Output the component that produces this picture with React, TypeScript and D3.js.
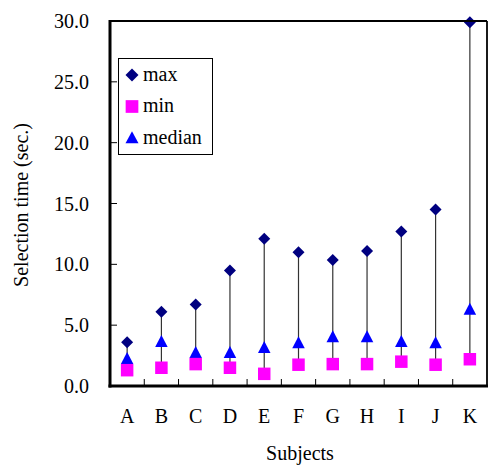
import React from 'react';
import * as d3 from 'd3';

// chart values
const subjects = ['A', 'B', 'C', 'D', 'E', 'F', 'G', 'H', 'I', 'J', 'K'];
const maxTimes = [3.6, 6.1, 6.7, 9.5, 12.1, 11.0, 10.35, 11.1, 12.7, 14.5, 29.9];
const minTimes = [1.3, 1.5, 1.8, 1.5, 1.0, 1.75, 1.8, 1.8, 2.0, 1.75, 2.2];
const medianTimes = [2.2, 3.6, 2.7, 2.7, 3.1, 3.5, 4.0, 4.0, 3.6, 3.5, 6.25];
const yTicks = [0, 5, 10, 15, 20, 25, 30];

const W = 489;
const H = 465;
const left = 110, right = 487, top = 21, bottom = 386;
const serif = "'Liberation Serif', 'DejaVu Serif', 'Times New Roman', serif";

// marker outlines
function diamondPath(r: number) {
    const p = d3.path();
    p.moveTo(0, -r); p.lineTo(r, 0); p.lineTo(0, r); p.lineTo(-r, 0); p.closePath();
    return p.toString();
}
function squarePath(s: number) {
    const p = d3.path();
    p.rect(-s / 2, -s / 2, s, s);
    return p.toString();
}
function trianglePath(w: number, h: number) {
    const p = d3.path();
    p.moveTo(0, -h * 0.6); p.lineTo(w / 2, h * 0.4); p.lineTo(-w / 2, h * 0.4); p.closePath();
    return p.toString();
}

const txt = { fontFamily: serif, fontSize: 20, fill: '#000' };

function App() {
    const x = d3.scaleBand().domain(subjects).range([left, right]);
    const y = d3.scaleLinear().domain([0, 30]).range([bottom, top]);
    const cx = (s: string) => (x(s) as number) + x.bandwidth() / 2;

    const dia = diamondPath(6);
    const sq = squarePath(12.5);
    const tri = trianglePath(12.5, 12);

    return (
        <svg width={W} height={H} style={{ position: 'absolute', left: 0, top: 0 }}>
            <rect x={0} y={0} width={W} height={H} fill="#fff" />

            {/* y tick labels and ticks */}
            {yTicks.map((t) => (
                <g key={t}>
                    <text x={89} y={y(t) + 7} textAnchor="end" style={txt}>{t.toFixed(1)}</text>
                    {t > 0 && t < 30 && (
                        <line x1={left} x2={left + 7} y1={y(t)} y2={y(t)} stroke="#000" strokeWidth={1} />
                    )}
                </g>
            ))}

            {/* x ticks between categories */}
            {subjects.slice(1).map((s) => (
                <line key={s} x1={x(s) as number} x2={x(s) as number} y1={bottom} y2={bottom - 7} stroke="#000" strokeWidth={1} />
            ))}

            {/* x labels */}
            {subjects.map((s) => (
                <text key={s} x={cx(s)} y={423} textAnchor="middle" style={txt}>{s}</text>
            ))}

            {/* min-max ranges */}
            {subjects.map((s, i) => (
                <line key={s} x1={cx(s)} x2={cx(s)} y1={y(minTimes[i])} y2={y(maxTimes[i])} stroke="#333" strokeWidth={1.2} />
            ))}

            {/* max */}
            {subjects.map((s, i) => (
                <path key={s} d={dia} transform={`translate(${cx(s)},${y(maxTimes[i])})`} fill="#000080" />
            ))}
            {/* median */}
            {subjects.map((s, i) => (
                <path key={s} d={tri} transform={`translate(${cx(s)},${y(medianTimes[i])})`} fill="#0000ff" />
            ))}
            {/* min */}
            {subjects.map((s, i) => (
                <path key={s} d={sq} transform={`translate(${cx(s)},${y(minTimes[i])})`} fill="#ff00ff" />
            ))}

            {/* frame */}
            <line x1={left} x2={right} y1={top} y2={top} stroke="#000" strokeWidth={2} />
            <line x1={right} x2={right} y1={top} y2={bottom} stroke="#000" strokeWidth={1.8} />
            <line x1={left} x2={left} y1={top - 1} y2={bottom + 1.5} stroke="#000" strokeWidth={3} />
            <line x1={left - 1.5} x2={right + 1} y1={bottom} y2={bottom} stroke="#000" strokeWidth={3} />

            {/* legend */}
            <g>
                <rect x={118.5} y={58.5} width={94} height={96} fill="#fff" stroke="#000" strokeWidth={1} />
                <path d={diamondPath(6.5)} transform="translate(132,75)" fill="#000080" />
                <text x={143} y={81} style={txt}>max</text>
                <path d={squarePath(12.7)} transform="translate(132,106.5)" fill="#ff00ff" />
                <text x={143} y={112} style={txt}>min</text>
                <path d={trianglePath(13, 12)} transform="translate(132,138.5)" fill="#0000ff" />
                <text x={143} y={144} style={txt}>median</text>
            </g>

            {/* axis titles */}
            <text x={300} y={460} textAnchor="middle" style={txt}>Subjects</text>
            <text transform="translate(28,205) rotate(-90)" textAnchor="middle" style={txt}>Selection time (sec.)</text>
        </svg>
    );
}

export default App;
